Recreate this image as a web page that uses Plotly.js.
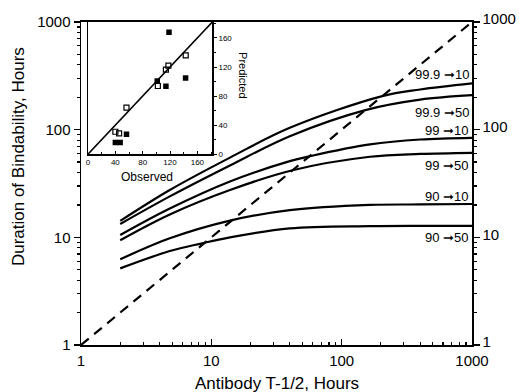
<!DOCTYPE html>
<html><head><meta charset="utf-8">
<script src="https://cdn.plot.ly/plotly-3.0.1.min.js"></script>
<style>body{margin:0;background:#fff}#c{width:519px;height:392px}</style>
</head><body><div id="c"></div>
<script>
// Main chart data (antibody half-life, hours -> duration of bindability, hours)
const x_999_10 = [2, 4.8, 13.9, 40, 205, 400, 1000];
const y_999_10 = [14.2, 27.5, 55, 104, 205, 236, 269];
const x_999_50 = [2, 4.8, 13.9, 40, 152, 400, 1000];
const y_999_50 = [13.3, 24, 46.5, 87, 152, 190, 209];
const x_99_10 = [2, 4.8, 13.9, 40, 58, 165, 400, 1000];
const y_99_10 = [10.5, 18.5, 33, 51, 57, 73, 81, 84];
const x_99_50 = [2, 4.8, 13.9, 42, 165, 400, 1000];
const y_99_50 = [9.4, 16.3, 27.5, 42, 56, 59.5, 61];
const x_90_10 = [2, 4.8, 13.9, 40, 165, 400, 1000];
const y_90_10 = [6.25, 9.8, 14.3, 17.9, 20, 20.2, 20.4];
const x_90_50 = [2, 4.8, 8.5, 13.9, 40, 165, 400, 1000];
const y_90_50 = [5.15, 7.46, 8.8, 10.0, 12.1, 12.7, 12.8, 12.8];
const identity = [1, 1000];

const curveLabels = ['99.9 \u279E10', '99.9 \u279E50', '99 \u279E10', '99 \u279E50', '90 \u279E10', '90 \u279E50'];

// Inset data (observed vs predicted)
const openObs = [143, 117.6, 114, 102.2, 56.3, 40, 45.5];
const openPred = [136, 121.8, 116.3, 93.8, 63.9, 30.8, 28.5];
const filledObs = [118.5, 142.8, 101.3, 114, 56.3, 40, 47];
const filledPred = [167.9, 104.8, 100.7, 93.4, 27.2, 16.1, 16.1];
const insetDiag = [0, 182];
const insetTicks = [0, 40, 80, 120, 160];

const font = 'Liberation Sans, Arial, sans-serif';
const lineStyle = {color: '#000', width: 2.2, shape: 'spline', smoothing: 1};

function curve(x, y) {
  return {x: x, y: y, mode: 'lines', line: lineStyle, xaxis: 'x', yaxis: 'y', hoverinfo: 'skip', showlegend: false};
}

const traces = [
  curve(x_999_10, y_999_10),
  curve(x_999_50, y_999_50),
  curve(x_99_10, y_99_10),
  curve(x_99_50, y_99_50),
  curve(x_90_10, y_90_10),
  curve(x_90_50, y_90_50),
  {x: identity, y: identity, mode: 'lines', line: {color: '#000', width: 2.2, dash: '10px,7px'}, xaxis: 'x', yaxis: 'y', showlegend: false},
  {x: identity, y: identity, mode: 'lines', line: {width: 0}, opacity: 0, xaxis: 'x', yaxis: 'y2', showlegend: false, hoverinfo: 'skip'},
  {x: insetDiag, y: insetDiag, mode: 'lines', line: {color: '#000', width: 1.6}, xaxis: 'x2', yaxis: 'y3', showlegend: false},
  {x: openObs, y: openPred, mode: 'markers', marker: {symbol: 'square-open', size: 5, color: '#000', line: {width: 1.2, color: '#000'}}, xaxis: 'x2', yaxis: 'y3', showlegend: false},
  {x: filledObs, y: filledPred, mode: 'markers', marker: {symbol: 'square', size: 5.5, color: '#000'}, xaxis: 'x2', yaxis: 'y3', showlegend: false}
];

const labelY = [0.836, 0.721, 0.664, 0.557, 0.461, 0.334];
const annotations = curveLabels.map((t, i) => ({
  text: t, xref: 'paper', yref: 'paper', x: 0.997, y: labelY[i], xanchor: 'right', yanchor: 'middle',
  showarrow: false, font: {family: font, size: 13, color: '#000'}
}));
annotations.push(
  {text: 'Duration of Bindability, Hours', xref: 'paper', yref: 'paper', x: -0.161, y: 0.582, textangle: -90,
   xanchor: 'center', yanchor: 'middle', showarrow: false, font: {family: font, size: 17, color: '#000'}},
  {text: 'Antibody T-1/2, Hours', xref: 'paper', yref: 'paper', x: 0.501, y: -0.118,
   xanchor: 'center', yanchor: 'middle', showarrow: false, font: {family: font, size: 17, color: '#000'}},
  {text: 'Observed', xref: 'paper', yref: 'paper', x: 0.169, y: 0.520,
   xanchor: 'center', yanchor: 'middle', showarrow: false, font: {family: font, size: 12, color: '#000'}},
  {text: 'Predicted', xref: 'paper', yref: 'paper', x: 0.414, y: 0.836, textangle: 90,
   xanchor: 'center', yanchor: 'middle', showarrow: false, font: {family: font, size: 11, color: '#000'}}
);

const minorLog = [2,3,4,5,6,7,8,9,20,30,40,50,60,70,80,90,200,300,400,500,600,700,800,900];
const majorLog = [1, 10, 100, 1000];

const layout = {
  width: 519, height: 392,
  margin: {l: 81, r: 47, t: 22, b: 47, pad: 0},
  paper_bgcolor: '#fff', plot_bgcolor: 'rgba(0,0,0,0)',
  font: {family: font, color: '#000', size: 15},
  showlegend: false,
  xaxis: {type: 'log', range: [0, 3], tickmode: 'array', tickvals: majorLog, ticktext: ['1','10','100','1000'],
    ticks: 'inside', ticklen: 6, tickwidth: 1.2, tickcolor: '#000',
    minor: {tickmode: 'array', tickvals: minorLog, ticks: 'inside', ticklen: 3, tickcolor: '#000', showgrid: false},
    showline: true, linecolor: '#000', linewidth: 2, mirror: true, showgrid: false, zeroline: false,
    tickfont: {size: 15}, ticklabelstandoff: 1, anchor: 'y'},
  yaxis: {type: 'log', range: [0, 3], tickmode: 'array', tickvals: majorLog, ticktext: ['1','10','100','1000'],
    ticks: 'outside', ticklen: 6, tickwidth: 1.2, tickcolor: '#000',
    minor: {tickmode: 'array', tickvals: minorLog, ticks: 'outside', ticklen: 3, tickcolor: '#000', showgrid: false},
    showline: true, linecolor: '#000', linewidth: 1.5, showgrid: false, zeroline: false,
    tickfont: {size: 15}, anchor: 'x'},
  yaxis2: {type: 'log', range: [0, 3], overlaying: 'y', side: 'right', anchor: 'x',
    tickmode: 'array', tickvals: majorLog, ticktext: ['1','10','100','1000'],
    ticks: 'outside', ticklen: 6, tickwidth: 1.2, tickcolor: '#000',
    minor: {tickmode: 'array', tickvals: minorLog, ticks: 'outside', ticklen: 3, tickcolor: '#000', showgrid: false},
    showline: true, linecolor: '#000', linewidth: 1.5, showgrid: false, zeroline: false,
    tickfont: {size: 15}, ticklabelshift: -3},
  xaxis2: {domain: [0.018, 0.336], range: [0, 182], anchor: 'y3',
    tickmode: 'array', tickvals: insetTicks, ticks: 'inside', ticklen: 3, tickcolor: '#000',
    minor: {dtick: 20, ticks: 'inside', ticklen: 2, tickcolor: '#000', showgrid: false},
    showline: true, linecolor: '#000', linewidth: 1.5, mirror: true, showgrid: false, zeroline: false,
    tickfont: {size: 8}},
  yaxis3: {domain: [0.591, 1.0], range: [0, 182], anchor: 'x2', side: 'right',
    tickmode: 'array', tickvals: insetTicks, ticks: 'outside', ticklen: 3, tickcolor: '#000',
    minor: {dtick: 20, ticks: 'outside', ticklen: 2, tickcolor: '#000', showgrid: false},
    showline: true, linecolor: '#000', linewidth: 1.5, mirror: true, showgrid: false, zeroline: false,
    tickfont: {size: 8}},
  annotations: annotations
};

Plotly.newPlot('c', traces, layout, {staticPlot: true, displayModeBar: false});
</script>
</body></html>
